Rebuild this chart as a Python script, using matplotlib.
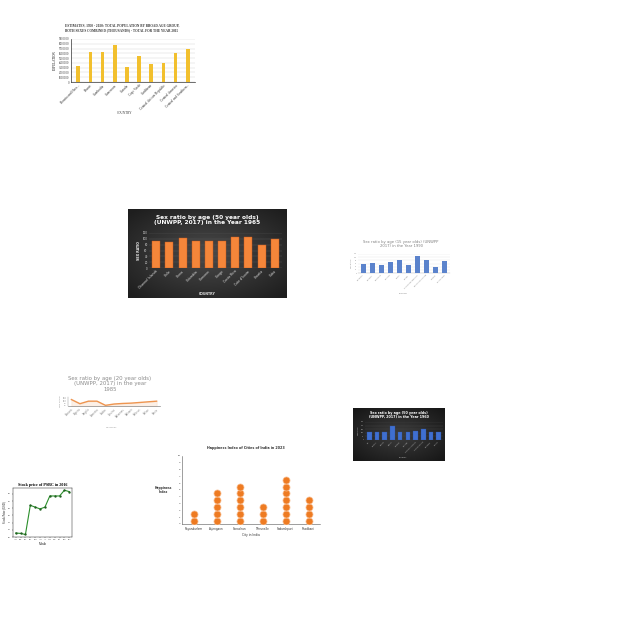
import numpy as np
import matplotlib
matplotlib.use("Agg")
import matplotlib.pyplot as plt

# ---------------- data ----------------
pop_countries = ["Bosnia and Herz...", "Brunei", "Cambodia", "Cameroon", "Canada",
                 "Cape Verde", "Caribbean", "Central African Republic", "Central America",
                 "Central and Southern..."]
pop_values = [3400000, 6300000, 6200000, 7700000, 3200000, 5500000, 3800000, 4000000, 6000000, 7000000]

sr50_countries = ["Channel Islands", "Chile", "China", "Colombia", "Comoros", "Congo",
                  "Costa Rica", "Cote d'Ivoire", "Croatia", "Cuba"]
sr50_values = [93, 88, 103, 92, 92, 94, 106, 108, 80, 98]

sr15_countries = ["Denmark", "Djibouti", "Dominica", "Ecuador", "Egypt", "Eritrea",
                  "Dominican Republic", "Equatorial Guinea", "Estonia", "El Salvador"]
sr15_values = [58, 66, 52, 68, 79, 48, 106, 85, 37, 75]

sr20_countries = ["Albania", "Algeria", "Angola", "Armenia", "Aruba", "Austria",
                  "Bahamas", "Bahrain", "Belarus", "Belize", "Benin"]
sr20_values = [102.9, 97.8, 100.9, 100.9, 95.8, 97.4, 98.1, 98.5, 99.3, 100.1, 100.9]

sr60_countries = ["Fiji", "Finland", "France", "Gabon", "Gambia", "Georgia",
                  "French Polynesia", "French Guiana", "Germany", "Ghana"]
sr60_values = [105, 114, 114, 195, 114, 114, 127, 150, 105, 118]

months = ["Jan", "Feb", "Mar", "Apr", "May", "Jun", "Jul", "Aug", "Sep", "Oct", "Nov", "Dec"]
stock_prices = [4.11, 4.10, 4.07, 4.88, 4.83, 4.78, 4.83, 5.14, 5.14, 5.14, 5.30, 5.26]

cities = ["Rayandurlam", "Anjengaon", "Sonadhan", "Thirunelle", "Sudarshpuri", "Rhodbani"]
happiness = [2, 5, 6, 3, 7, 4]

# ---------------- figure helpers ----------------
W = H = 640
fig = plt.figure(figsize=(6.4, 6.4), dpi=100)
fig.patch.set_facecolor("white")
plt.rcParams["font.family"] = ["DejaVu Sans"]


def px_axes(x0, y0, x1, y1, **kw):
    return fig.add_axes([x0 / W, 1 - y1 / H, (x1 - x0) / W, (y1 - y0) / H], **kw)


def px_text(x, y, s, **kw):
    kw.setdefault("ha", "center")
    kw.setdefault("va", "center")
    return fig.text(x / W, 1 - y / H, s, **kw)


def small_ticks(ax, size=1.5, col="#555555"):
    ax.tick_params(axis="both", length=0, pad=1, labelsize=size, colors=col)


def dark_card(x0, y0, x1, y1, inner="#4a4a4a", outer="#1e1e1e"):
    bg = px_axes(x0, y0, x1, y1)
    yy, xx = np.mgrid[-1:1:100j, -1:1:160j]
    r = np.clip(np.sqrt(xx ** 2 + yy ** 2) / 1.35, 0, 1)
    c1 = np.array(matplotlib.colors.to_rgb(inner))
    c2 = np.array(matplotlib.colors.to_rgb(outer))
    img = c1[None, None, :] * (1 - r[..., None]) + c2[None, None, :] * r[..., None]
    bg.imshow(img, aspect="auto", extent=[0, 1, 0, 1])
    bg.set_axis_off()
    return bg

# ---------------- chart 1: yellow population bars ----------------
ax1 = px_axes(71, 39, 195, 82)
x = np.arange(len(pop_values))
ax1.bar(x, pop_values, width=0.3, color="#F2C02E", zorder=3)
ax1.set_ylim(0, 9000000)
ax1.set_yticks(np.arange(0, 9000001, 1000000))
ax1.set_yticklabels([str(v) for v in range(0, 9000001, 1000000)])
ax1.set_xticks(x)
ax1.set_xticklabels(pop_countries, rotation=45, ha="right", rotation_mode="anchor")
ax1.set_xlim(-0.6, len(pop_values) - 0.4)
ax1.grid(axis="y", color="#d8d8d8", linewidth=0.35, zorder=0)
for s in ["top", "right"]:
    ax1.spines[s].set_visible(False)
ax1.spines["left"].set_linewidth(0.5)
ax1.spines["bottom"].set_linewidth(0.5)
ax1.spines["left"].set_color("#333333")
ax1.spines["bottom"].set_color("#333333")
small_ticks(ax1, 2.1, "#333333")
ax1.tick_params(axis="x", labelsize=2.5)
for t in ax1.get_xticklabels() + ax1.get_yticklabels():
    t.set_family("Liberation Serif")
ax1.set_ylabel("POPULATION", fontsize=2.3, family="Liberation Serif", labelpad=1.5)
px_text(125, 113, "COUNTRY", fontsize=2.3, family="Liberation Serif", color="#333333")
px_text(122, 28, "ESTIMATES, 1950 - 2020: TOTAL POPULATION BY BROAD AGE GROUP,\n"
        "BOTH SEXES COMBINED (THOUSANDS) - TOTAL FOR THE YEAR 2015",
        fontsize=2.4, family="Liberation Serif", fontweight="bold", color="#333333",
        linespacing=1.1)

# ---------------- chart 2: dark card orange bars ----------------
dark_card(128, 209, 287, 298)
ax2 = px_axes(149, 233, 282, 268)
ax2.patch.set_alpha(0)
x = np.arange(len(sr50_values))
ax2.bar(x, sr50_values, width=0.6, color="#F5863A", edgecolor="#C9561A", linewidth=0.3, zorder=3)
ax2.set_ylim(0, 120)
ax2.set_yticks(np.arange(0, 121, 20))
ax2.set_xticks(x)
ax2.set_xticklabels(sr50_countries, rotation=45, ha="right", rotation_mode="anchor")
ax2.set_xlim(-0.55, len(sr50_values) - 0.45)
ax2.grid(axis="y", color="#5a5a5a", linewidth=0.3, zorder=0)
for s in ax2.spines.values():
    s.set_visible(False)
small_ticks(ax2, 1.9, "#dddddd")
ax2.tick_params(axis="x", labelsize=2.3)
ax2.set_ylabel("SEX RATIO", fontsize=2.3, color="#eeeeee", fontweight="bold", labelpad=1.5)
px_text(207, 294, "COUNTRY", fontsize=2.3, color="#dddddd", fontweight="bold")
px_text(207, 220, "Sex ratio by age (50 year olds)\n(UNWPP, 2017) in the Year 1965",
        fontsize=4.2, color="white", fontweight="bold", linespacing=1.15)

# ---------------- chart 3: light blue bars ----------------
ax3 = px_axes(358, 254, 450, 273)
x = np.arange(len(sr15_values))
ax3.bar(x, sr15_values, width=0.6, color="#5B83CC", zorder=3)
ax3.set_ylim(0, 120)
ax3.set_yticks(np.arange(0, 121, 20))
ax3.set_xticks(x)
ax3.set_xticklabels(sr15_countries, rotation=45, ha="right", rotation_mode="anchor")
ax3.set_xlim(-0.6, len(sr15_values) - 0.4)
ax3.grid(axis="y", color="#e4e4e4", linewidth=0.3, zorder=0)
for s in ["top", "right", "left"]:
    ax3.spines[s].set_visible(False)
ax3.spines["bottom"].set_linewidth(0.3)
ax3.spines["bottom"].set_color("#bbbbbb")
small_ticks(ax3, 1.2, "#888888")
ax3.tick_params(axis="x", labelsize=1.4)
ax3.set_ylabel("SEX RATIO", fontsize=1.3, color="#888888", labelpad=1)
px_text(403, 293, "COUNTRY", fontsize=1.4, color="#888888")
px_text(401, 244, "Sex ratio by age (15 year olds) (UNWPP\n2017) in the Year 1990",
        fontsize=2.7, color="#808080", linespacing=1.2)

# ---------------- chart 4: orange line ----------------
ax4 = px_axes(68, 397, 160, 406)
x = np.arange(len(sr20_values))
ax4.plot(x, sr20_values, color="#EE9550", linewidth=1.0, zorder=3)
ax4.fill_between(x, sr20_values, 95, color="#FBE3D0", alpha=0.5, zorder=1)
ax4.set_ylim(95, 106)
ax4.set_yticks([96, 98, 100, 102, 104, 106])
ax4.set_xticks(x)
ax4.set_xticklabels(sr20_countries, rotation=45, ha="right", rotation_mode="anchor")
ax4.set_xlim(-0.4, len(sr20_values) - 0.6)
for s in ["top", "right"]:
    ax4.spines[s].set_visible(False)
ax4.spines["left"].set_linewidth(0.3)
ax4.spines["bottom"].set_linewidth(0.5)
ax4.spines["left"].set_color("#888888")
ax4.spines["bottom"].set_color("#888888")
small_ticks(ax4, 1.4, "#888888")
ax4.tick_params(axis="x", labelsize=1.8)
ax4.set_ylabel("SEX RATIO", fontsize=1.6, color="#888888", labelpad=1)
px_text(112, 427, "COUNTRY", fontsize=1.7, color="#999999")
px_text(110, 384, "Sex ratio by age (20 year olds)\n(UNWPP, 2017) in the year\n1985",
        fontsize=3.9, color="#8c8c8c", linespacing=1.15)

# ---------------- chart 5: dark card blue bars ----------------
dark_card(353, 408, 445, 461, inner="#3c3c3c", outer="#171717")
ax5 = px_axes(365, 422, 443, 440)
ax5.patch.set_alpha(0)
x = np.arange(len(sr60_values))
ax5.bar(x, sr60_values, width=0.6, color="#3F6FD0", edgecolor="#2a4f9e", linewidth=0.2, zorder=3)
ax5.set_ylim(0, 250)
ax5.set_yticks(np.arange(0, 251, 50))
ax5.set_xticks(x)
ax5.set_xticklabels(sr60_countries, rotation=45, ha="right", rotation_mode="anchor")
ax5.set_xlim(-0.55, len(sr60_values) - 0.45)
ax5.grid(axis="y", color="#4a4a4a", linewidth=0.25, zorder=0)
for s in ax5.spines.values():
    s.set_visible(False)
small_ticks(ax5, 1.1, "#bbbbbb")
ax5.tick_params(axis="x", labelsize=1.3)
ax5.set_ylabel("SEX RATIO", fontsize=1.2, color="#cccccc", labelpad=1)
px_text(403, 457, "COUNTRY", fontsize=1.3, color="#bbbbbb")
px_text(399, 415, "Sex ratio by age (50 year olds)\n(UNWPP, 2017) in the Year 1960",
        fontsize=2.4, color="white", fontweight="bold", linespacing=1.15)

# ---------------- chart 6: stock price ----------------
ax6 = px_axes(13, 488, 72, 537)
x = np.arange(len(stock_prices))
ax6.plot(x, stock_prices, color="#2A8F2A", linewidth=0.8, marker="o", markersize=0.7,
         markerfacecolor="#1f5f1f", markeredgecolor="#1f5f1f")
ax6.set_xticks(x)
ax6.set_xticklabels(months)
ax6.set_yticks([4.0, 4.2, 4.4, 4.6, 4.8, 5.0, 5.2])
for s in ax6.spines.values():
    s.set_linewidth(0.3)
ax6.tick_params(axis="both", length=0.8, width=0.3, pad=0.8, labelsize=1.3, colors="#333333")
ax6.set_ylabel("Stock Price (USD)", fontsize=2.1, family="Liberation Serif", labelpad=1.5)
ax6.set_xlabel("Month", fontsize=2.1, family="Liberation Serif", labelpad=1)
ax6.set_title("Stock price of PSBC in 2016", fontsize=3.0, family="Liberation Serif",
              fontweight="bold", pad=1.5)

# ---------------- chart 7: happiness pictograph ----------------
ax7 = px_axes(182, 456, 320, 524)
xs, ys = [], []
for i, n in enumerate(happiness):
    for k in range(n):
        xs.append(i)
        ys.append(k + 0.5)
ax7.scatter(xs, ys, s=26, color="#EE7B22", edgecolor="#F9C39A", linewidth=0.5, zorder=3)
ax7.set_ylim(0, 10)
ax7.set_yticks(np.arange(0, 11, 1))
ax7.set_xlim(-0.5, len(happiness) - 0.5)
ax7.set_xticks(np.arange(len(happiness)))
ax7.set_xticklabels(cities)
for s in ["top", "right"]:
    ax7.spines[s].set_visible(False)
ax7.spines["left"].set_linewidth(0.4)
ax7.spines["bottom"].set_linewidth(0.4)
ax7.spines["left"].set_color("#555555")
ax7.spines["bottom"].set_color("#555555")
small_ticks(ax7, 1.7, "#333333")
ax7.tick_params(axis="x", labelsize=2.0, pad=2)
px_text(163, 490, "Happiness\nIndex", fontsize=2.2, color="#333333", fontweight="bold",
        linespacing=1.2)
px_text(251, 535, "City in India", fontsize=2.2, color="#333333")
px_text(246, 448, "Happiness Index of Cities of India in 2023", fontsize=2.4,
        color="#333333", fontweight="bold")

fig.savefig("out.png", dpi=100, facecolor="white")
